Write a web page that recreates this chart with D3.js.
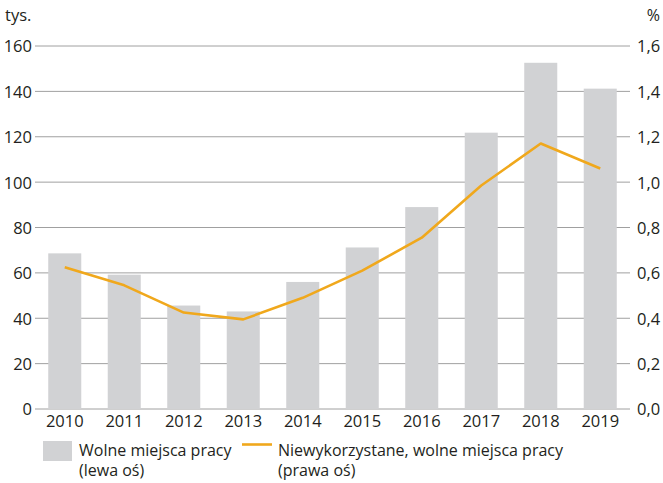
<!DOCTYPE html>
<html lang="pl">
<head>
    <meta charset="UTF-8">
    <title>Wolne miejsca pracy</title>
    <script src="https://d3js.org/d3.v7.min.js"></script>
    <style>
        body { margin: 0; background: #fff; }
        svg { display: block; }
        text { font-family: "Open Sans", "Noto Sans", sans-serif; fill: #231f20; }
        .tick text { font-size: 16.5px; }
        .legend text { font-size: 16px; }
    </style>
</head>
<body>
    <svg width="663" height="483"></svg>
    <script>
        const years = ["2010", "2011", "2012", "2013", "2014", "2015", "2016", "2017", "2018", "2019"];
        // wolne miejsca pracy, tys. (lewa oś)
        const vacancies = [68.6, 59.2, 45.6, 43.0, 56.0, 71.2, 89.0, 121.8, 152.6, 141.2];
        // niewykorzystane wolne miejsca pracy, % (prawa oś)
        const unusedRate = [0.625, 0.545, 0.425, 0.395, 0.49, 0.61, 0.755, 0.985, 1.17, 1.06];
        const leftTicks = [0, 20, 40, 60, 80, 100, 120, 140, 160];
        const rightTicks = [0, 0.2, 0.4, 0.6, 0.8, 1.0, 1.2, 1.4, 1.6];

        const svg = d3.select("svg");
        const plotL = 35, plotR = 630, plotT = 46, plotB = 409;

        const x = d3.scaleBand().domain(years).range([plotL, plotR]).paddingInner(0.445).paddingOuter(0.2225);
        const yL = d3.scaleLinear().domain([0, 160]).range([plotB, plotT]);
        const yR = d3.scaleLinear().domain([0, 1.6]).range([plotB, plotT]);

        // siatka
        svg.append("g")
            .selectAll("line")
            .data(leftTicks)
            .enter()
            .append("line")
            .attr("x1", plotL)
            .attr("x2", plotR)
            .attr("y1", d => yL(d))
            .attr("y2", d => yL(d))
            .attr("stroke", "#a0a0a0")
            .attr("stroke-width", 1);

        // słupki
        svg.append("g")
            .selectAll("rect")
            .data(vacancies)
            .enter()
            .append("rect")
            .attr("x", (d, i) => x(years[i]))
            .attr("width", x.bandwidth())
            .attr("y", d => yL(d))
            .attr("height", d => plotB - yL(d))
            .attr("fill", "#d1d2d4");

        // linia
        const line = d3.line()
            .x((d, i) => x(years[i]) + x.bandwidth() / 2)
            .y(d => yR(d));
        svg.append("path")
            .datum(unusedRate)
            .attr("d", line)
            .attr("fill", "none")
            .attr("stroke", "#f0a81c")
            .attr("stroke-width", 2.6)
            .attr("stroke-linejoin", "round");

        // osie
        const axL = svg.append("g")
            .attr("transform", `translate(${plotL},0)`)
            .call(d3.axisLeft(yL).tickValues(leftTicks).tickSize(0).tickPadding(3));
        const axR = svg.append("g")
            .attr("transform", `translate(${plotR},0)`)
            .call(d3.axisRight(yR).tickValues(rightTicks).tickSize(0).tickPadding(7)
                .tickFormat(d => d3.format(".1f")(d).replace(".", ",")));
        const axX = svg.append("g")
            .attr("transform", `translate(0,${plotB})`)
            .call(d3.axisBottom(x).tickSize(0).tickPadding(6));
        [axL, axR, axX].forEach(a => {
            a.select(".domain").remove();
            a.selectAll(".tick text").attr("fill", "#231f20");
            a.attr("font-family", null).attr("font-size", null);
        });
        axL.selectAll(".tick text").attr("dy", "0.36em");
        axR.selectAll(".tick text").attr("dy", "0.36em");

        svg.append("text").attr("x", 5).attr("y", 21).style("font-size", "16.5px").text("tys.");
        svg.append("text").attr("x", 660).attr("y", 21).attr("text-anchor", "end").style("font-size", "16px").text("%");

        // legenda
        const lg = svg.append("g").attr("class", "legend");
        lg.append("rect").attr("x", 43).attr("y", 441).attr("width", 29).attr("height", 20).attr("fill", "#d1d2d4");
        lg.append("text").attr("x", 79).attr("y", 456).text("Wolne miejsca pracy");
        lg.append("text").attr("x", 79).attr("y", 476).text("(lewa oś)");
        lg.append("line").attr("x1", 242).attr("x2", 272).attr("y1", 444.5).attr("y2", 444.5)
            .attr("stroke", "#f0a81c").attr("stroke-width", 2.6);
        lg.append("text").attr("x", 278).attr("y", 456).text("Niewykorzystane, wolne miejsca pracy");
        lg.append("text").attr("x", 278).attr("y", 476).text("(prawa oś)");
    </script>
</body>
</html>
